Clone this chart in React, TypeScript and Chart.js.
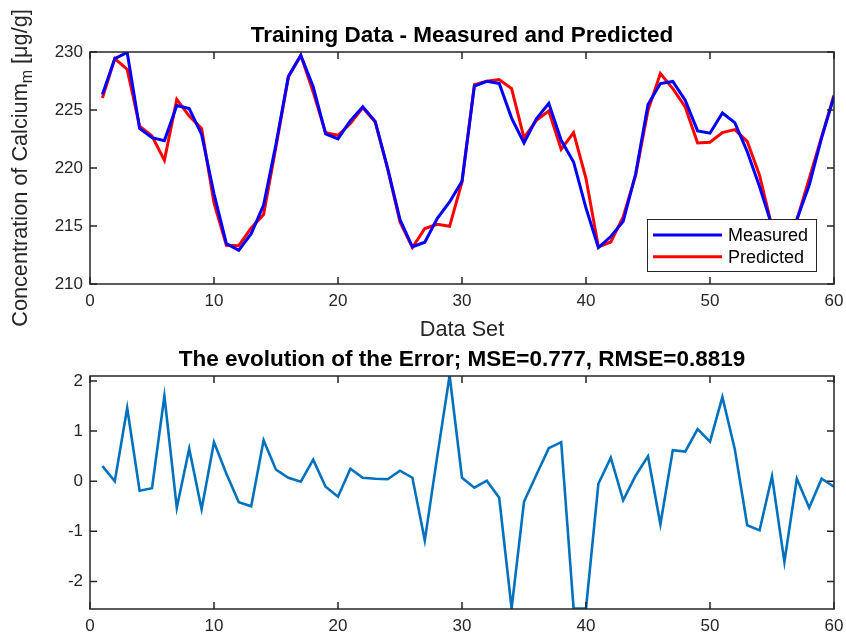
import React, { useEffect, useRef } from 'react';
import { Chart, registerables } from 'chart.js';

Chart.register(...registerables);

// ---------- DATA ----------
const dataSet: number[] = Array.from({ length: 60 }, (_, i) => i + 1);

const measured: number[] = [
  226.34, 229.43, 229.96, 223.41, 222.62, 222.36, 225.39, 225.13, 222.9, 217.78,
  213.48, 212.9, 214.34, 216.8, 222.07, 227.9, 229.71, 227.0, 222.94, 222.51,
  224.08, 225.27, 224.02, 219.99, 215.55, 213.21, 213.6, 215.64, 217.07, 218.86,
  227.06, 227.48, 227.29, 224.3, 222.16, 224.23, 225.58, 222.39, 220.52, 216.55,
  213.14, 214.09, 215.4, 219.48, 225.47, 227.28, 227.46, 225.84, 223.2, 223.0,
  224.74, 223.91, 221.42, 218.39, 215.0, 212.5, 215.55, 218.5, 222.6, 226.16,
];

const predicted: number[] = [
  226.04, 229.43, 228.5, 223.6, 222.76, 220.66, 225.92, 224.48, 223.4, 217.0,
  213.33, 213.3, 214.83, 215.98, 221.84, 227.85, 229.72, 226.55, 223.05, 222.82,
  223.83, 225.2, 223.97, 219.95, 215.34, 213.14, 214.78, 215.15, 214.97, 218.79,
  227.19, 227.47, 227.62, 226.84, 222.59, 224.11, 224.92, 221.61, 223.05, 219.09,
  213.19, 213.62, 215.78, 219.37, 224.97, 228.14, 226.84, 225.26, 222.16, 222.22,
  223.05, 223.31, 222.3, 219.37, 214.9, 214.1, 215.5, 219.09, 222.67, 226.27,
];

const errorValues: number[] = [
  0.3, 0.0, 1.46, -0.19, -0.14, 1.7, -0.53, 0.65, -0.56, 0.78,
  0.15, -0.42, -0.5, 0.82, 0.23, 0.07, -0.01, 0.43, -0.11, -0.31,
  0.25, 0.07, 0.05, 0.04, 0.21, 0.07, -1.18, 0.49, 2.11, 0.07,
  -0.13, 0.01, -0.33, -2.54, -0.41, 0.13, 0.66, 0.78, -2.54, -2.54,
  -0.05, 0.47, -0.38, 0.11, 0.5, -0.86, 0.62, 0.59, 1.04, 0.79,
  1.68, 0.64, -0.88, -0.98, 0.1, -1.61, 0.05, -0.53, 0.05, -0.11,
];

const xTicks: number[] = [0, 10, 20, 30, 40, 50, 60];
const yTicksTop: number[] = [210, 215, 220, 225, 230];
const yTicksBottom: number[] = [-2, -1, 0, 1, 2];

const topTitle = 'Training Data - Measured and Predicted';
const bottomTitle = 'The evolution of the Error; MSE=0.777, RMSE=0.8819';
const xLabel = 'Data Set';
const yLabelMain = 'Concentration of Calcium';
const yLabelSub = 'm';
const yLabelTail = ' [\u03BCg/g]';

// ---------- STYLE ----------
const FONT = '"Liberation Sans", Arial, Helvetica, sans-serif';
const AXIS_COLOR = '#262626';
const TICK_SIZE = 17;
const LABEL_SIZE = 21.7;
const TITLE_SIZE = 22.5;
const LEGEND_SIZE = 18;

const W = 846;
const TOP_H = 345;
const BOTTOM_H = 292;

const framePlugin = {
  id: 'frame',
  afterDatasetsDraw(chart: any) {
    const { ctx, chartArea: a, scales } = chart;
    ctx.save();
    ctx.strokeStyle = AXIS_COLOR;
    ctx.lineWidth = 1.5;
    ctx.strokeRect(a.left, a.top, a.right - a.left, a.bottom - a.top);
    const tl = 7;
    ctx.beginPath();
    scales.x.ticks.forEach((t: any) => {
      const px = scales.x.getPixelForValue(t.value);
      ctx.moveTo(px, a.bottom);
      ctx.lineTo(px, a.bottom - tl);
      ctx.moveTo(px, a.top);
      ctx.lineTo(px, a.top + tl);
    });
    scales.y.ticks.forEach((t: any) => {
      const py = scales.y.getPixelForValue(t.value);
      ctx.moveTo(a.left, py);
      ctx.lineTo(a.left + tl, py);
      ctx.moveTo(a.right, py);
      ctx.lineTo(a.right - tl, py);
    });
    ctx.stroke();
    ctx.restore();
  },
};

function makeTextPlugin(title: string, titleY: number, withAxisLabels: boolean) {
  return {
    id: 'texts',
    afterDraw(chart: any) {
      const { ctx, chartArea: a } = chart;
      const cx = (a.left + a.right) / 2;
      ctx.save();
      ctx.fillStyle = '#000000';
      ctx.textAlign = 'center';
      ctx.textBaseline = 'middle';
      ctx.font = `bold ${TITLE_SIZE}px ${FONT}`;
      ctx.fillText(title, cx, titleY);
      if (withAxisLabels) {
        ctx.fillStyle = AXIS_COLOR;
        ctx.font = `${LABEL_SIZE}px ${FONT}`;
        ctx.fillText(xLabel, cx, 330);
        // rotated y label with subscript
        const mainFont = `${LABEL_SIZE}px ${FONT}`;
        const subFont = `${Math.round(LABEL_SIZE * 0.72)}px ${FONT}`;
        ctx.font = mainFont;
        const w1 = ctx.measureText(yLabelMain).width;
        const w3 = ctx.measureText(yLabelTail).width;
        ctx.font = subFont;
        const w2 = ctx.measureText(yLabelSub).width;
        const total = w1 + w2 + w3;
        ctx.translate(20, 168);
        ctx.rotate(-Math.PI / 2);
        ctx.textAlign = 'left';
        ctx.textBaseline = 'alphabetic';
        let x = -total / 2;
        const base = 7;
        ctx.font = mainFont;
        ctx.fillText(yLabelMain, x, base);
        x += w1;
        ctx.font = subFont;
        ctx.fillText(yLabelSub, x, base + 5);
        x += w2;
        ctx.font = mainFont;
        ctx.fillText(yLabelTail, x, base);
      }
      ctx.restore();
    },
  };
}

const legendPlugin = {
  id: 'boxLegend',
  afterDatasetsDraw(chart: any) {
    const { ctx, chartArea: a } = chart;
    const right = a.right - 17;
    const bottom = a.bottom - 12;
    const boxW = 170;
    const boxH = 53;
    const left = right - boxW;
    const top = bottom - boxH;
    ctx.save();
    ctx.fillStyle = '#ffffff';
    ctx.fillRect(left, top, boxW, boxH);
    ctx.strokeStyle = AXIS_COLOR;
    ctx.lineWidth = 1;
    ctx.strokeRect(left + 0.5, top + 0.5, boxW - 1, boxH - 1);
    ctx.font = `${LEGEND_SIZE}px ${FONT}`;
    ctx.textBaseline = 'middle';
    ctx.textAlign = 'left';
    chart.data.datasets.forEach((ds: any, i: number) => {
      const y = top + 16 + i * 21.7;
      ctx.strokeStyle = ds.borderColor;
      ctx.lineWidth = ds.borderWidth;
      ctx.beginPath();
      ctx.moveTo(left + 6, y);
      ctx.lineTo(left + 75, y);
      ctx.stroke();
      ctx.fillStyle = '#000000';
      ctx.fillText(ds.label, left + 81, y + 1);
    });
    ctx.restore();
  },
};

function scaleOpts(min: number, max: number, ticks: number[], fixed: { width?: number; height?: number }, padding: number) {
  return {
    type: 'linear' as const,
    min,
    max,
    afterBuildTicks: (s: any) => {
      s.ticks = ticks.map((v) => ({ value: v }));
    },
    afterFit: (s: any) => {
      if (fixed.width !== undefined) s.width = fixed.width;
      if (fixed.height !== undefined) s.height = fixed.height;
      s.paddingLeft = 0;
      s.paddingRight = 0;
      s.paddingTop = 0;
      s.paddingBottom = 0;
    },
    grid: { display: false, drawTicks: false, tickLength: 0 },
    border: { display: false },
    ticks: {
      padding,
      autoSkip: false,
      maxRotation: 0,
      color: AXIS_COLOR,
      font: { family: FONT, size: TICK_SIZE },
    },
  };
}

export default function App() {
  const topRef = useRef<HTMLCanvasElement>(null);
  const bottomRef = useRef<HTMLCanvasElement>(null);

  useEffect(() => {
    const top = new Chart(topRef.current as HTMLCanvasElement, {
      type: 'line',
      data: {
        datasets: [
          {
            label: 'Measured',
            data: dataSet.map((x, i) => ({ x, y: measured[i] })),
            borderColor: '#0000FF',
            borderWidth: 3,
            pointRadius: 0,
            tension: 0,
            clip: 0,
          },
          {
            label: 'Predicted',
            data: dataSet.map((x, i) => ({ x, y: predicted[i] })),
            borderColor: '#FF0000',
            borderWidth: 3,
            pointRadius: 0,
            tension: 0,
            clip: 0,
          },
        ],
      },
      options: {
        responsive: false,
        animation: false,
        layout: { padding: { top: 52, right: 12, left: 0, bottom: 0 } },
        plugins: { legend: { display: false }, title: { display: false }, tooltip: { enabled: false } },
        scales: {
          x: scaleOpts(0, 60, xTicks, { height: TOP_H - 284 }, 7),
          y: scaleOpts(210, 230, yTicksTop, { width: 90 }, 7),
        },
      } as any,
      plugins: [framePlugin, legendPlugin, makeTextPlugin(topTitle, 36, true)],
    });

    const bottom = new Chart(bottomRef.current as HTMLCanvasElement, {
      type: 'line',
      data: {
        datasets: [
          {
            label: 'Error',
            data: dataSet.map((x, i) => ({ x, y: errorValues[i] })),
            borderColor: '#0072BD',
            borderWidth: 2.6,
            pointRadius: 0,
            tension: 0,
            clip: 0,
          },
        ],
      },
      options: {
        responsive: false,
        animation: false,
        layout: { padding: { top: 31, right: 12, left: 0, bottom: 0 } },
        plugins: { legend: { display: false }, title: { display: false }, tooltip: { enabled: false } },
        scales: {
          x: scaleOpts(0, 60, xTicks, { height: 28 }, 7),
          y: scaleOpts(-2.55, 2.1, yTicksBottom, { width: 90 }, 7),
        },
      } as any,
      plugins: [framePlugin, makeTextPlugin(bottomTitle, 15, false)],
    });

    return () => {
      top.destroy();
      bottom.destroy();
    };
  }, []);

  return (
    <div style={{ position: 'absolute', left: 0, top: 0, width: W, height: TOP_H + BOTTOM_H, background: '#ffffff' }}>
      <canvas ref={topRef} width={W} height={TOP_H} style={{ display: 'block', position: 'absolute', left: 0, top: 0 }} />
      <canvas ref={bottomRef} width={W} height={BOTTOM_H} style={{ display: 'block', position: 'absolute', left: 0, top: TOP_H }} />
    </div>
  );
}
